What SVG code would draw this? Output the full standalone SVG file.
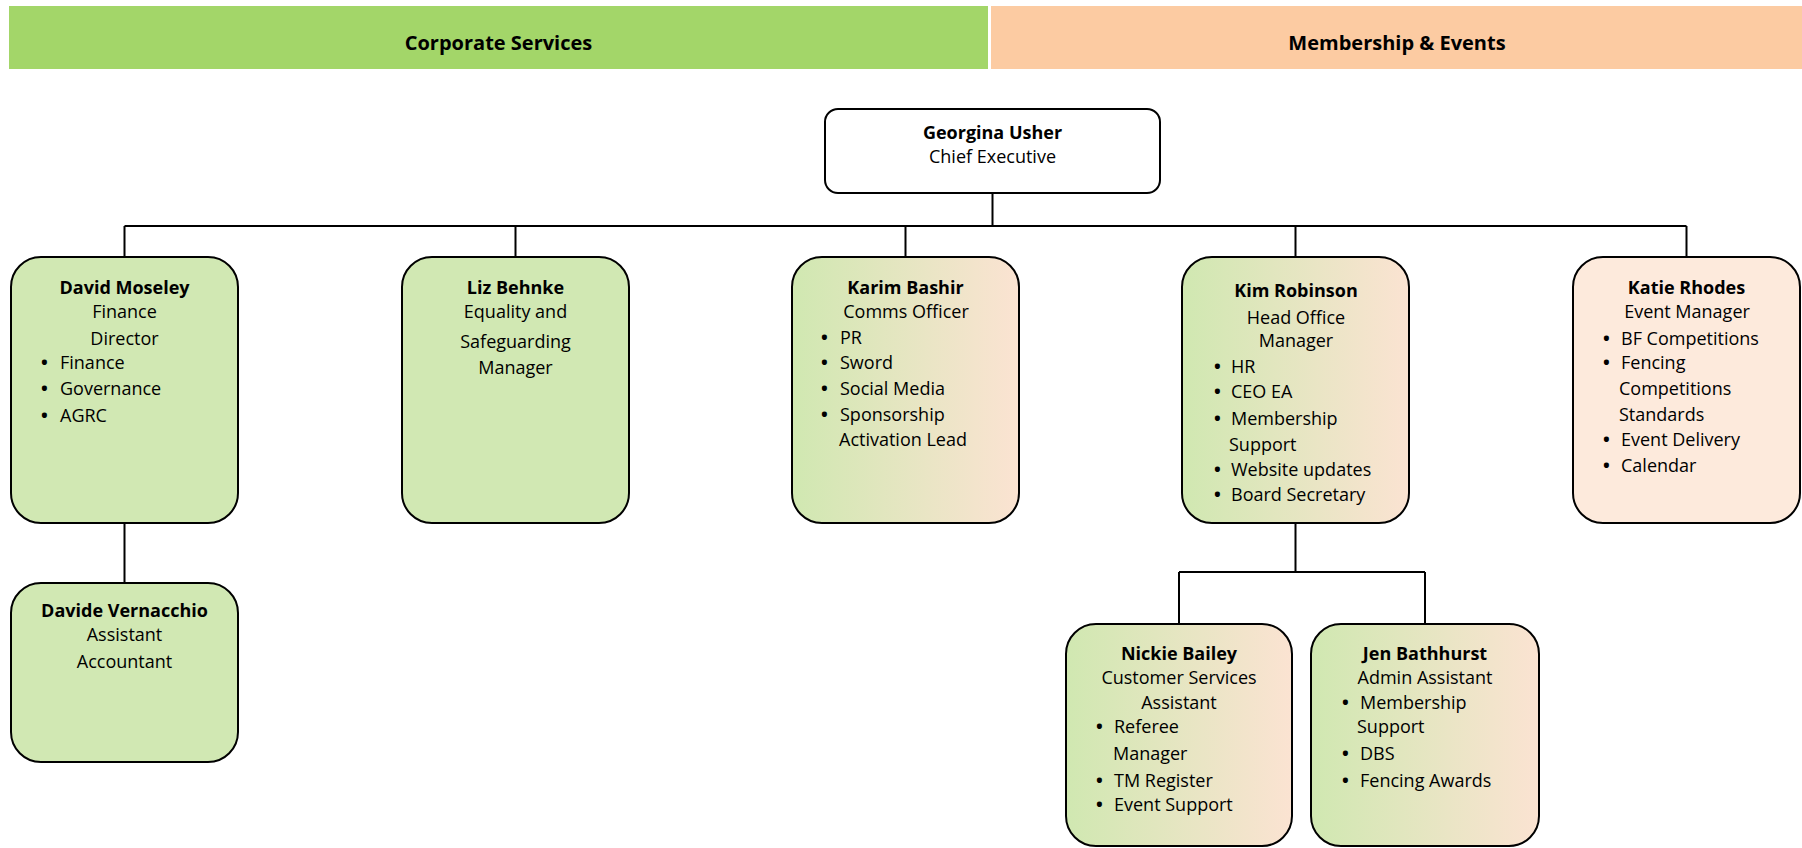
<svg xmlns="http://www.w3.org/2000/svg" width="1802" height="848" viewBox="0 0 1802 848">
<defs>
<linearGradient id="gm" x1="0" y1="0" x2="1" y2="0">
<stop offset="0" stop-color="#d0e8b1"/>
<stop offset="1" stop-color="#fbe3d2"/>
</linearGradient>
<style>
text{font-family:"Open Sans","Liberation Sans",sans-serif;font-size:18px;fill:#000}
.hdr{font-size:20px;font-weight:bold;text-anchor:middle}
.b{font-weight:bold}
.c{text-anchor:middle}
.bl{font-weight:bold}
.box{stroke:#000;stroke-width:2}
.g{fill:#d1e8b3}
.o{fill:#fdeadc}
.m{fill:url(#gm)}
.conn{stroke:#000;stroke-width:2;fill:none}
</style>
</defs>
<rect width="1802" height="848" fill="#fff"/>
<g id="header-corporate">
<rect x="9" y="6" width="979" height="63" fill="#a3d669"/>
<text class="hdr" x="498.5" y="50">Corporate Services</text>
</g>
<g id="header-membership">
<rect x="991" y="6" width="811" height="63" fill="#fccba2"/>
<text class="hdr" x="1397" y="50">Membership &amp; Events</text>
</g>
<g id="connectors">
<path class="conn" d="M992.5 193V226M124.5 226H1686.5M124.5 226V257M515.5 226V257M905.5 226V257M1295.5 226V257M1686.5 226V257M124.5 523V583M1295.5 523V572M1179 572H1425M1179 572V624M1425 572V624"/>
</g>
<g id="ceo">
<rect class="box" x="825" y="109" width="335" height="84" rx="13" fill="#fff"/>
<text class="c b" x="992.5" y="139">Georgina Usher</text>
<text class="c" x="992.5" y="163">Chief Executive</text>
</g>
<g id="david-moseley">
<rect class="box g" x="11" y="257" width="227" height="266" rx="30"/>
<text class="c b" x="124.5" y="294">David Moseley</text>
<text class="c" x="124.5" y="318">Finance</text>
<text class="c" x="124.5" y="345">Director</text>
<text class="bl" x="41" y="369">•</text><text x="60" y="369">Finance</text>
<text class="bl" x="41" y="395">•</text><text x="60" y="395">Governance</text>
<text class="bl" x="41" y="422">•</text><text x="60" y="422">AGRC</text>
</g>
<g id="liz-behnke">
<rect class="box g" x="402" y="257" width="227" height="266" rx="30"/>
<text class="c b" x="515.5" y="294">Liz Behnke</text>
<text class="c" x="515.5" y="318">Equality and</text>
<text class="c" x="515.5" y="348">Safeguarding</text>
<text class="c" x="515.5" y="374">Manager</text>
</g>
<g id="karim-bashir">
<rect class="box m" x="792" y="257" width="227" height="266" rx="30"/>
<text class="c b" x="905.5" y="294">Karim Bashir</text>
<text class="c" x="906" y="318">Comms Officer</text>
<text class="bl" x="821" y="344">•</text><text x="840" y="344">PR</text>
<text class="bl" x="821" y="369">•</text><text x="840" y="369">Sword</text>
<text class="bl" x="821" y="395">•</text><text x="840" y="395">Social Media</text>
<text class="bl" x="821" y="421">•</text><text x="840" y="421">Sponsorship</text>
<text x="839" y="446">Activation Lead</text>
</g>
<g id="kim-robinson">
<rect class="box m" x="1182" y="257" width="227" height="266" rx="30"/>
<text class="c b" x="1296" y="297">Kim Robinson</text>
<text class="c" x="1296" y="324">Head Office</text>
<text class="c" x="1296" y="347">Manager</text>
<text class="bl" x="1214" y="373">•</text><text x="1231" y="373">HR</text>
<text class="bl" x="1214" y="398">•</text><text x="1231" y="398">CEO EA</text>
<text class="bl" x="1214" y="425">•</text><text x="1231" y="425">Membership</text>
<text x="1229" y="451">Support</text>
<text class="bl" x="1214" y="476">•</text><text x="1231" y="476">Website updates</text>
<text class="bl" x="1214" y="501">•</text><text x="1231" y="501">Board Secretary</text>
</g>
<g id="katie-rhodes">
<rect class="box o" x="1573" y="257" width="227" height="266" rx="30"/>
<text class="c b" x="1686.5" y="294">Katie Rhodes</text>
<text class="c" x="1687" y="318">Event Manager</text>
<text class="bl" x="1603" y="345">•</text><text x="1621" y="345">BF Competitions</text>
<text class="bl" x="1603" y="369">•</text><text x="1621" y="369">Fencing</text>
<text x="1619" y="395">Competitions</text>
<text x="1619" y="421">Standards</text>
<text class="bl" x="1603" y="446">•</text><text x="1621" y="446">Event Delivery</text>
<text class="bl" x="1603" y="472">•</text><text x="1621" y="472">Calendar</text>
</g>
<g id="davide-vernacchio">
<rect class="box g" x="11" y="583" width="227" height="179" rx="30"/>
<text class="c b" x="124.5" y="617">Davide Vernacchio</text>
<text class="c" x="124.5" y="641">Assistant</text>
<text class="c" x="124.5" y="668">Accountant</text>
</g>
<g id="nickie-bailey">
<rect class="box m" x="1066" y="624" width="226" height="222" rx="30"/>
<text class="c b" x="1179" y="660">Nickie Bailey</text>
<text class="c" x="1179" y="684">Customer Services</text>
<text class="c" x="1179" y="709">Assistant</text>
<text class="bl" x="1096" y="733">•</text><text x="1114" y="733">Referee</text>
<text x="1113" y="760">Manager</text>
<text class="bl" x="1096" y="787">•</text><text x="1114" y="787">TM Register</text>
<text class="bl" x="1096" y="811">•</text><text x="1114" y="811">Event Support</text>
</g>
<g id="jen-bathhurst">
<rect class="box m" x="1311" y="624" width="228" height="222" rx="30"/>
<text class="c b" x="1425" y="660">Jen Bathhurst</text>
<text class="c" x="1425" y="684">Admin Assistant</text>
<text class="bl" x="1342" y="709">•</text><text x="1360" y="709">Membership</text>
<text x="1357" y="733">Support</text>
<text class="bl" x="1342" y="760">•</text><text x="1360" y="760">DBS</text>
<text class="bl" x="1342" y="787">•</text><text x="1360" y="787">Fencing Awards</text>
</g>
</svg>
